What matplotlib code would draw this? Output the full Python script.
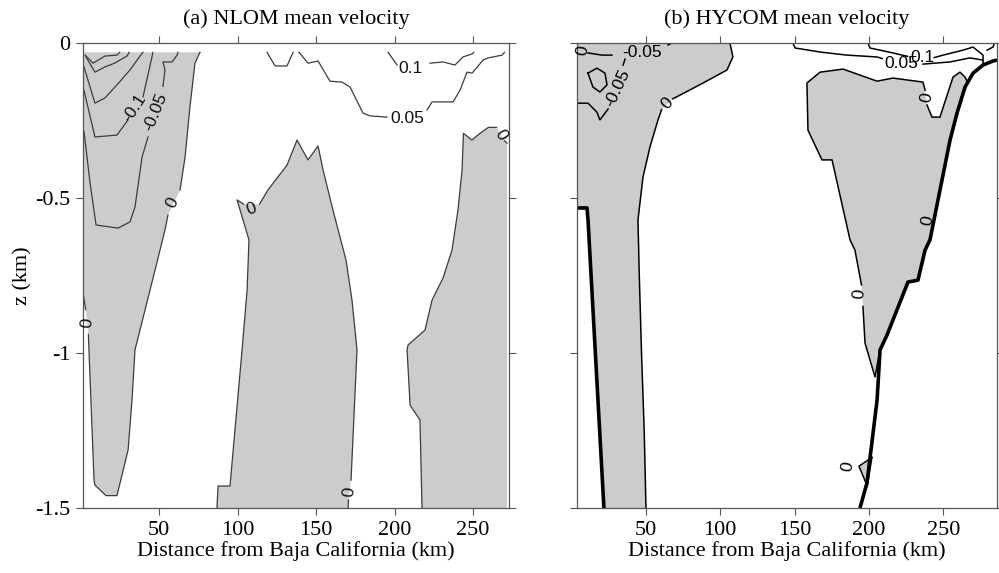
import numpy as np
import matplotlib.pyplot as plt

plt.rcParams['font.family'] = ['Liberation Serif', 'DejaVu Serif']
nan = np.nan

GRAY = '#cccccc'

# ---------------- (a) NLOM : contours digitised as (distance km, z km) ----------------
a_top = -0.03  # top of model data
# zero contour bounding the western negative tongue (nan = label gap)
a_zero_w = [(76.1, -0.03), (72.9, -0.065), (69.7, -0.206), (66.6, -0.368), (63.4, -0.474), (nan, nan),
            (55.7, -0.555), (53.8, -0.603), (47.5, -0.732), (41.1, -0.861), (34.7, -0.99),
            (32.8, -1.152), (30.3, -1.313), (25.2, -1.419), (23.2, -1.46), (16.2, -1.46),
            (9.2, -1.426), (8.6, -1.41), (5.0, -0.94), (nan, nan), (3.3, -0.86), (1.6, -0.806)]
# zero contour of the middle negative region
a_zero_m = [(86.9, -1.5), (87.6, -1.429), (95.2, -1.429), (102.9, -0.99), (106.1, -0.797),
            (107.3, -0.635), (99.7, -0.506), (104.0, -0.52), (nan, nan), (114.0, -0.52), (119.4, -0.474),
            (131.5, -0.394), (137.9, -0.313), (144.9, -0.377), (151.3, -0.332), (154.5, -0.41),
            (160.8, -0.539), (169.1, -0.7), (172.9, -0.829), (176.1, -0.99), (172.3, -1.41), (nan, nan),
            (170.7, -1.474), (170.4, -1.5)]
# zero contour of the eastern negative region
a_zero_e = [(217.5, -1.5), (216.2, -1.216), (209.9, -1.168), (208.0, -0.99), (208.6, -0.974),
            (219.4, -0.926), (223.9, -0.829), (230.9, -0.758), (236.6, -0.668), (240.4, -0.539),
            (243.0, -0.41), (243.9, -0.291), (249.2, -0.313), (254.5, -0.291), (259.8, -0.272),
            (265.0, -0.272), (nan, nan), (270.0, -0.315), (271.7, -0.323), (271.7, -1.5)]
a_neg = [
    [(2.9, -0.039), (8.0, -0.065), (15.6, -0.042), (23.2, -0.039), (25.0, -0.03)],
    [(3.5, -0.045), (9.2, -0.094), (15.6, -0.077), (21.7, -0.065), (29.6, -0.042), (31.0, -0.03)],
    [(2.2, -0.077), (9.2, -0.194), (15.6, -0.177), (23.2, -0.135), (31.5, -0.087), (37.9, -0.042), (39.8, -0.03)],
    [(2.2, -0.152), (9.2, -0.303), (23.2, -0.297), (30.3, -0.248), (nan, nan), (39.8, -0.174),
     (45.5, -0.045), (46.1, -0.03)],
    [(2.2, -0.284), (6.1, -0.452), (9.9, -0.587), (23.9, -0.597), (31.5, -0.577), (34.7, -0.529),
     (39.2, -0.368), (43.0, -0.303), (nan, nan), (52.5, -0.14), (53.8, -0.087), (52.5, -0.061),
     (58.3, -0.061), (61.5, -0.039), (62.1, -0.03)],
]
a_pos = [
    [(118.8, -0.03), (123.9, -0.074), (131.5, -0.074), (135.4, -0.03)],
    [(139.2, -0.03), (144.9, -0.065), (151.3, -0.058), (158.9, -0.123), (166.6, -0.126),
     (171.7, -0.142), (179.9, -0.226), (184.4, -0.235), (195.2, -0.239), (nan, nan), (220.7, -0.216),
     (223.9, -0.19), (237.3, -0.19), (241.7, -0.152), (246.2, -0.094), (249.4, -0.097),
     (256.4, -0.055), (259.6, -0.048), (268.5, -0.039), (270.0, -0.03)],
    [(195.9, -0.03), (201.6, -0.071), (nan, nan), (222.6, -0.065), (230.9, -0.061), (238.5, -0.071),
     (243.6, -0.045), (249.4, -0.035), (250.5, -0.03)],
]
a_labels = [(34.7, -0.21, '-0.1', 57), (48.0, -0.222, '-0.05', 68), (58.5, -0.515, '0', 64),
            (109.0, -0.535, '0', 20), (4.1, -0.903, '0', 85), (171.5, -1.447, '0', 85),
            (267.5, -0.296, '0', -60), (208.0, -0.242, '0.05', 0), (209.9, -0.081, '0.1', 0)]

# ---------------- (b) HYCOM ----------------
topo_w = [(3.6, -0.532), (10.3, -0.532), (11.0, -0.571), (21.7, -1.5)]
topo_e = [(286.2, -0.055), (283.5, -0.058), (276.8, -0.071), (270.1, -0.097), (264.7, -0.142),
          (259.3, -0.226), (254.6, -0.313), (241.1, -0.635), (237.8, -0.668), (233.0, -0.765),
          (226.3, -0.771), (212.2, -0.942), (207.5, -0.99), (205.5, -1.152), (198.7, -1.419), (194.0, -1.5)]
b_zero_w = [(106.5, 0.0), (108.5, -0.045), (104.5, -0.087), (88.4, -0.129), (72.9, -0.168),
            (68.0, -0.18), (nan, nan), (60.5, -0.215), (58.1, -0.248), (52.7, -0.335), (48.0, -0.432),
            (44.6, -0.571), (45.5, -0.75), (47.0, -1.0), (48.8, -1.25), (50.0, -1.5)]
b_zero_e = [(266.7, -0.129), (264.7, -0.11), (261.3, -0.094), (256.6, -0.11), (247.8, -0.239),
            (242.5, -0.239), (239.1, -0.2), (nan, nan), (237.8, -0.152), (236.4, -0.126), (216.2, -0.113),
            (205.5, -0.123), (182.6, -0.084), (167.1, -0.094), (158.3, -0.129), (159.0, -0.281),
            (168.4, -0.377), (175.2, -0.377), (187.3, -0.635), (190.6, -0.668), (195.0, -0.78), (nan, nan),
            (196.0, -0.85), (197.4, -0.968), (204.1, -1.077), (207.5, -0.99)]
b_zero_tri = [(202.0, -1.337), (198.9, -1.429), (193.3, -1.365), (202.0, -1.337)]
b_neg = [
    [(11.0, -0.032), (20.4, -0.039), (27.1, -0.039), (nan, nan), (64.8, -0.006), (67.5, 0.0)],
    [(35.9, -0.052), (34.6, -0.071), (nan, nan), (24.5, -0.213), (19.0, -0.248), (17.0, -0.223),
     (11.0, -0.194), (3.6, -0.194)],
    [(11.0, -0.097), (17.0, -0.081), (22.4, -0.097), (23.8, -0.135), (19.0, -0.158), (14.3, -0.142), (11.0, -0.097)],
]
b_pos = [
    [(148.9, 0.0), (150.3, -0.016), (167.1, -0.029), (185.3, -0.039), (205.5, -0.045), (209.0, -0.05),
     (nan, nan), (236.4, -0.068), (254.6, -0.061), (268.0, -0.048), (276.8, -0.055)],
    [(199.4, 0.0), (200.7, -0.016), (216.2, -0.032), (226.0, -0.043), (nan, nan), (244.0, -0.047),
     (249.9, -0.039), (263.3, -0.023), (270.1, -0.013), (276.8, -0.039), (276.8, -0.071)],
    [(279.5, -0.023), (283.5, -0.013), (284.5, 0.0)],
]
b_labels = [(47.3, -0.029, '-0.05', 0), (30.8, -0.145, '-0.05', 65), (64.1, -0.196, '0', 48),
            (7.4, -0.025, '0', 80), (238.8, -0.176, '0', 80), (239.6, -0.572, '0', 80),
            (193.3, -0.81, '0', 85), (186.1, -1.366, '0', 80),
            (221.5, -0.066, '0.05', 0), (236.0, -0.046, '0.1', 0)]


def xy(pts):
    p = np.array(pts, dtype=float)
    return p[:, 0], p[:, 1]


def solid(pts):
    return [p for p in pts if not np.isnan(p[0])]


fig = plt.figure(figsize=(9.99, 5.73), dpi=100)
ax1 = fig.add_axes([0.0831, 0.1134, 0.4264, 0.8115])
ax2 = fig.add_axes([0.5776, 0.1134, 0.4204, 0.8115])

# --- panel a fills
ax1.fill(*xy(solid(a_zero_w) + [(1.6, a_top)]), color=GRAY, lw=0)
ax1.fill(*xy(solid(a_zero_m)), color=GRAY, lw=0)
ax1.fill(*xy(solid(a_zero_e)), color=GRAY, lw=0)
lc_a = '#3c3c3c'
for ln in [a_zero_w, a_zero_m, a_zero_e[:-1]] + a_neg + a_pos:
    ax1.plot(*xy(ln), color=lc_a, lw=0.9)
for x, z, s, r in a_labels:
    ax1.text(x, z, s, rotation=r, ha='center', va='center', fontsize=12.5,
             family=['Liberation Sans', 'DejaVu Sans'], color='#111111', rotation_mode='anchor')

# --- panel b fills
ax2.fill(*xy(solid(b_zero_w) + topo_w[::-1][:-1] + [(3.6, -0.532), (3.6, 0.0)]), color=GRAY, lw=0)
inner = [p for p in topo_e if -0.99 < p[1] < -0.129][::-1]
ax2.fill(*xy(solid(b_zero_e) + inner), color=GRAY, lw=0)
ax2.fill(*xy(b_zero_tri), color=GRAY, lw=0)
for ln in [b_zero_w, b_zero_e, b_zero_tri] + b_neg + b_pos:
    ax2.plot(*xy(ln), color='black', lw=1.1)
ax2.plot(*xy(topo_w), color='black', lw=2.6, solid_capstyle='butt')
ax2.plot(*xy(topo_e), color='black', lw=2.6, solid_capstyle='butt')
for x, z, s, r in b_labels:
    ax2.text(x, z, s, rotation=r, ha='center', va='center', fontsize=12.5,
             family=['Liberation Sans', 'DejaVu Sans'], color='black', rotation_mode='anchor')

for ax, xl, title in [(ax1, (1.6, 272.9), '(a) NLOM mean velocity'),
                      (ax2, (3.6, 286.2), '(b) HYCOM mean velocity')]:
    ax.set_xlim(*xl)
    ax.set_ylim(-1.5, 0)
    ax.set_xticks([50, 100, 150, 200, 250])
    ax.set_yticks([-1.5, -1, -0.5, 0])
    ax.tick_params(direction='out', length=5, width=0.8, color='#555555', top=True, right=True,
                   labelsize=16, pad=4)
    for sp in ax.spines.values():
        sp.set_color('#555555')
        sp.set_linewidth(0.9)
    ax.set_xlabel('Distance from Baja California (km)', fontsize=16, labelpad=1)
    ax.set_title(title, fontsize=16, pad=14)

ax1.set_yticklabels(['-1.5', '-1', '-0.5', '0'])
ax1.set_ylabel('z (km)', fontsize=16, labelpad=2)
ax2.set_yticklabels([])

fig.savefig('out.png', dpi=100)
